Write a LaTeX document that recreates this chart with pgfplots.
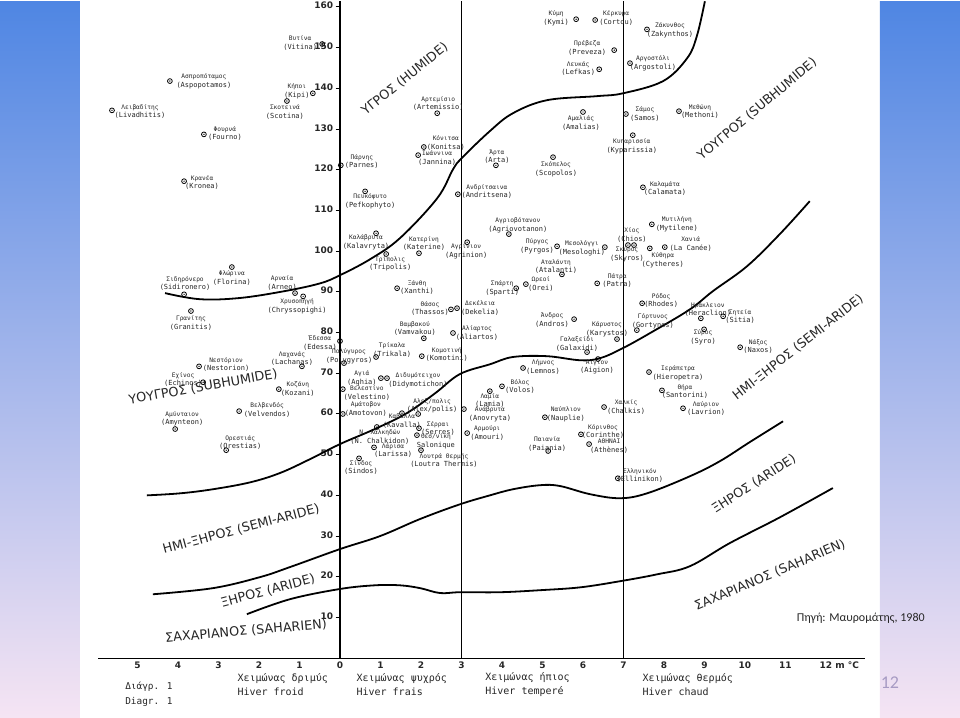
\documentclass[border=0pt]{standalone}
\usepackage{pgfplots}
\pgfplotsset{compat=1.18}
\usepackage{fontspec}
\setmainfont{DejaVu Sans}
\newfontfamily\monof{DejaVu Sans Mono}
\newfontfamily\calib{Carlito}

\definecolor{stripTop}{HTML}{4F86E3}
\definecolor{stripMid}{HTML}{A9C6EE}
\definecolor{stripBot}{HTML}{F5E4F3}
\definecolor{pagenum}{HTML}{A79BC4}

% station mark: small circle with a dot
\pgfdeclareplotmark{stn}{%
  \pgfpathcircle{\pgfpointorigin}{\pgfplotmarksize}\pgfusepathqstroke
  \pgfpathcircle{\pgfpointorigin}{0.3\pgfplotmarksize}\pgfusepathqfill}

\newcommand\st[2]{{\fontsize{3.1}{4.2}\selectfont #1}\\#2}
\newcommand\zf{\fontsize{6.4}{7}\selectfont}

\begin{document}
\begin{tikzpicture}
\begin{axis}[
  scale only axis, width=383.5pt, height=328.5pt,
  xmin=-5.975, xmax=12.963, ymin=0, ymax=161.43,
  axis x line=bottom, axis y line=middle,
  axis line style={-, line width=0.55pt, black},
  clip=false,
  hide obscured x ticks=false, hide obscured y ticks=false,
  xtick={-5,-4,...,12},
  xticklabels={5,4,3,2,1,0,1,2,3,4,5,6,7,8,9,10,11,12\rlap{ m °C}},
  ytick={10,20,...,160},
  yticklabels={10,20,30,40,50,60,70,80,90,100,110,120,130,140,150,160},
  xtick style={draw=none},
  ytick style={black, line width=0.5pt},
  tick align=outside, major tick length=2.2pt,
  typeset ticklabels with strut,
  ticklabel style={font=\bfseries\fontsize{4.5}{5}\selectfont, text=black!85},
  yticklabel style={inner sep=1pt},
  xticklabel style={yshift=4pt},
]
% slide background strips
\shade[top color=stripTop, middle color=stripMid, bottom color=stripBot]
  (axis cs:-8.395,161.43) rectangle (axis cs:-6.42,-14.496);
\shade[top color=stripTop, middle color=stripMid, bottom color=stripBot]
  (axis cs:13.333,161.43) rectangle (axis cs:15.309,-14.496);

% winter class separators
\addplot[black, line width=0.5pt] coordinates {(3,0) (3,161.43)};
\addplot[black, line width=0.5pt] coordinates {(7,0) (7,161.43)};

% climate boundaries
\addplot[black, line width=0.9pt, smooth, tension=0.6] coordinates {
(-4.32,89.7) (-3.46,88.2) (-2.47,88.5) (-1.36,90.2) (-0.49,92.1) (0,94.1)
(0.74,98.0) (1.48,103.2) (2.40,113.0) (2.79,120.1) (3.01,122.9) (3.70,129.5)
(4.27,133.9) (5.11,137.1) (6.35,138.1) (6.99,138.8) (7.98,141.8) (8.57,147.4)
(8.81,152.8) (9.01,161.4)};
\addplot[black, line width=0.9pt, smooth, tension=0.6] coordinates {
(-4.77,40.0) (-3.95,40.5) (-3.14,41.5) (-2.22,43.2) (-1.48,45.5) (-0.74,48.9)
(0,52.6) (0.86,56.3) (1.65,60.2) (2.35,65.1) (2.96,69.8) (3.70,72.2) (4.27,74.0)
(5.11,74.2) (5.93,73.2) (6.42,73.7) (6.99,76.2) (7.73,80.3) (8.64,85.7)
(9.21,90.2) (10.05,96.3) (10.86,104.2) (11.60,112.3)};
\addplot[black, line width=0.9pt, smooth, tension=0.6] coordinates {
(-4.62,15.7) (-3.14,17.2) (-1.98,19.9) (-1.23,22.4) (0,26.8) (0.99,30.0)
(1.98,34.2) (2.96,37.8) (3.70,40.0) (4.27,41.5) (4.94,42.5) (5.43,42.3)
(6.17,40.3) (6.91,39.3) (7.58,40.5) (8.64,44.7) (9.38,48.4) (10.12,53.1)
(10.94,58.2)};
\addplot[black, line width=0.9pt, smooth, tension=0.6] coordinates {
(-2.30,10.8) (-1.23,14.5) (0,17.0) (0.86,17.9) (1.48,17.9) (1.98,17.2)
(2.47,16.0) (2.96,16.2) (3.95,16.2) (4.94,16.7) (5.93,17.4) (6.91,18.9)
(7.83,20.6) (8.64,22.6) (9.63,28.3) (10.86,34.6) (12.17,41.8)};

% stations: m (deg C), Q, label offset dx dy (px), greek name, latin name
\addplot[only marks, mark=stn, mark size=1.2pt, black,
  mark options={line width=0.4pt},
  point meta=explicit symbolic,
  visualization depends on={value \thisrow{dx}\as\ldx},
  visualization depends on={value \thisrow{dy}\as\ldy},
  visualization depends on={value \thisrow{l}\as\llat},
  nodes near coords={\st{\pgfplotspointmeta}{\llat}},
  every node near coord/.append style={anchor=center, align=center,
    inner sep=0pt, font=\monof\fontsize{3.5}{4.2}\selectfont, text=black!85,
    xshift=0.5pt*\ldx, yshift=-0.5pt*\ldy},
] table[x=m, y=Q, meta=g] {
m Q dx dy g l
-4.20 141.8 34 0 Ασπροπόταμος (Aspopotamos)
-5.63 134.6 28 1 Λειβαδίτης (Livadhitis)
-3.36 128.7 21 -1 Φουρνά (Fourno)
-3.85 117.2 18 1 Κρανέα (Kronea)
-0.44 150.9 -22 -1 Βυτίνα (Vitina)
-0.67 138.8 -16 -2 Κήποι (Kipi)
-1.31 136.9 -2 11 Σκοτεινά (Scotina)
2.40 133.9 1 -10 Αρτεμίσιο (Artemissio)
2.07 125.6 22 -4 Κόνιτσα (Konitsa)
1.93 123.6 19 3 Ιωάννινα (Jannina)
0.02 121.1 21 -4 Πάρνης (Parnes)
0.62 114.7 5 10 Πευκόφυτο (Pefkophyto)
0.89 104.4 -10 9 Καλάβρυτα (Kalavryta)
2.91 114.0 29 -3 Ανδρίτσαινα (Andritsena)
5.83 157.0 -20 -1 Κύμη (Kymi)
6.30 156.8 21 -2 Κέρκυρα (Cortou)
7.58 154.5 23 1 Ζάκυνθος (Zakynthos)
6.77 149.4 -27 -2 Πρέβεζα (Preveza)
6.40 144.7 -21 -1 Λευκάς (Lefkas)
7.16 146.2 23 0 Αργοστόλι (Argostoli)
6.00 134.2 -2 11 Αμαλιάς (Amalias)
7.06 133.7 19 0 Σάμος (Samos)
8.37 134.4 21 0 Μεθώνη (Methoni)
7.23 128.5 -1 11 Κυπαρισσία (Kyparissia)
3.85 121.1 1 -9 Άρτα (Arta)
5.26 123.1 3 12 Σκόπελος (Scopolos)
7.48 115.7 22 1 Καλαμάτα (Calamata)
4.17 104.2 9 -9 Αγριοβότανον (Agriovotanon)
7.70 106.6 25 0 Μυτιλήνη (Mytilene)
7.11 101.5 4 -10 Χίος (Chios)
7.26 101.5 -7 9 Σκύρος (Skyros)
5.36 101.2 -20 0 Πύργος (Pyrgos)
6.54 101.0 -23 1 Μεσολόγγι (Mesologhi)
7.65 100.7 13 12 Κύθηρα (Cytheres)
8.02 101.0 26 -3 Χανιά {(La Canée)}
5.48 94.3 -6 -8 Αταλάντη (Atalanti)
4.59 91.9 15 0 Ωρεοί (Orei)
4.35 90.9 -14 0 Σπάρτη (Sparti)
6.35 92.1 20 -3 Πάτρα (Patra)
7.46 87.2 19 -3 Ρόδος (Rhodes)
5.78 83.3 -22 1 Άνδρος (Andros)
7.33 80.6 16 -9 Γόρτυνος (Gortynos)
6.84 78.4 -10 -10 Κάρυστος (Karystos)
6.10 75.2 -10 -8 Γαλαξείδι (Galaxidi)
6.37 73.5 -1 8 Αίγιον (Aigion)
4.52 71.3 20 -1 Λήμνος (Lemnos)
4.00 66.8 18 0 Βόλος (Volos)
3.70 65.6 0 9 Λαμία (Lamia)
3.06 61.2 26 5 Ανάβρυτα (Anovryta)
3.14 55.3 20 0 Αρμούρι (Amouri)
6.52 61.7 22 0 Χαλκίς (Chalkis)
5.06 59.2 21 -3 Ναύπλιον (Nauplie)
5.95 55.0 22 -3 Κόρινθος (Corinthe)
6.15 52.6 20 2 ΑΘΗΝΑΙ (Athènes)
5.14 50.9 -1 -7 Παιανία (Paiania)
7.63 70.3 29 1 Ιεράπετρα (Hieropetra)
7.95 65.8 23 1 Θήρα (Santorini)
8.47 61.4 23 0 Λαύριον (Lavrion)
6.86 44.2 22 -3 Ελληνικόν (Ellinikon)
8.91 83.5 7 -9 Ηράκλειον (Heraclion)
9.46 84.0 17 0 Σητεία (Sitia)
8.99 80.8 -1 8 Σύρος (Syro)
9.88 76.4 18 -1 Νάξος (Naxos)
-2.67 96.1 0 11 Φλώρινα (Florina)
-3.85 89.4 1 -11 Σιδηρόνερο (Sidironero)
-3.68 85.3 0 12 Γρανίτης (Granitis)
-3.48 71.7 27 -2 Νεστόριον (Nestorion)
-3.38 67.8 -20 -3 Εχίνος (Echinos)
-2.49 60.7 28 -1 Βελβενδός (Velvendos)
-4.07 56.3 7 -10 Αμύνταιον (Amynteon)
-2.81 51.1 14 -8 Ορεστιάς (Orestias)
-1.11 89.7 -13 -10 Αρναία (Arneo)
-0.91 88.9 -6 10 Χρυσοπηγή (Chryssopighi)
-0.94 71.7 -10 -8 Λαχανάς (Lachanas)
-1.51 66.1 19 0 Κοζάνη (Kozani)
1.14 99.3 4 10 Τρίπολις (Tripolis)
1.95 99.5 5 -10 Κατερίνη (Katerine)
3.14 102.2 -1 9 Αγρίνιον (Agrinion)
1.41 90.9 20 -1 Ξάνθη (Xanthi)
2.74 85.7 -21 -1 Θάσος (Thassos)
2.89 86.0 23 0 Δεκέλεια (Dekelia)
2.07 78.6 -9 -10 Βαμβακού (Vamvakou)
2.79 79.9 24 0 Αλίαρτος (Aliartos)
0.00 77.9 -20 2 Έδεσσα (Edessa)
0.10 72.5 5 -7 Πολύγυρος (Polygyros)
0.89 74.0 16 -7 Τρίκαλα (Trikala)
2.02 74.2 25 -2 Κομοτινή (Komotini)
1.01 68.8 -19 0 Αγιά (Aghia)
1.16 68.8 31 2 Διδυμότειχον (Didymotichon)
0.07 66.1 24 4 Βελεστίνο (Velestino)
0.07 60.0 23 -5 Αμάτοβον (Amotovon)
1.93 60.0 14 -8 Αλεξ/πολις (Alex/polis)
1.53 60.2 0 8 Καβάλλα (Kavalla)
1.95 56.5 19 0 Σέρραι (Serres)
1.90 54.8 19 6 Θεσ/νίκη Salonique
0.91 56.8 3 10 {Ν. Χαλκηδών} {(N. Chalkidon)}
0.84 51.8 19 3 Λάρισα (Larissa)
2.00 51.1 23 10 {Λουτρά Θερμής} {(Loutra Thermis)}
0.47 49.1 2 9 Σίνδος (Sindos)
};

% zone names
\begin{scope}[every node/.style={font=\zf, text=black!85}]
\node[rotate=39] at (axis cs:1.60,142.3) {ΥΓΡΟΣ (HUMIDE)};
\node[rotate=40] at (axis cs:10.30,134.9) {ΥΟΥΓΡΟΣ (SUBHUMIDE)};
\node[rotate=10] at (axis cs:-3.38,66.6) {ΥΟΥΓΡΟΣ (SUBHUMIDE)};
\node[rotate=38] at (axis cs:11.31,76.4) {ΗΜΙ-ΞΗΡΟΣ (SEMI-ARIDE)};
\node[rotate=15] at (axis cs:-2.44,31.7) {ΗΜΙ-ΞΗΡΟΣ (SEMI-ARIDE)};
\node[rotate=15] at (axis cs:-1.78,16.5) {ΞΗΡΟΣ (ARIDE)};
\node[rotate=33] at (axis cs:10.22,42.8) {ΞΗΡΟΣ (ARIDE)};
\node[rotate=5] at (axis cs:-2.32,6.6) {ΣΑΧΑΡΙΑΝΟΣ (SAHARIEN)};
\node[rotate=23] at (axis cs:10.62,20.4) {ΣΑΧΑΡΙΑΝΟΣ (SAHARIEN)};
\end{scope}

% winter classes
\begin{scope}[every node/.style={font=\monof\fontsize{5}{7}\selectfont,
    align=left, anchor=west, inner sep=0pt, text=black!85}]
\node at (axis cs:-2.54,-6.39) {Χειμώνας δριμύς\\Hiver froid};
\node at (axis cs:0.40,-6.39) {Χειμώνας ψυχρός\\Hiver frais};
\node at (axis cs:3.58,-6.39) {Χειμώνας ήπιος\\Hiver temperé};
\node at (axis cs:7.46,-6.39) {Χειμώνας θερμός\\Hiver chaud};
\node[font=\monof\fontsize{4.7}{7.5}\selectfont] at (axis cs:-5.31,-8.97) {Διάγρ. 1\\Diagr. 1};
\end{scope}

\node[font=\calib\fontsize{6}{7}\selectfont, text=black!85] at (axis cs:12.86,9.8) {Πηγή: Μαυρομάτης, 1980};
\node[font=\calib\fontsize{9}{10}\selectfont, text=pagenum] at (axis cs:13.58,-6.1) {12};
\end{axis}
\end{tikzpicture}
\end{document}
